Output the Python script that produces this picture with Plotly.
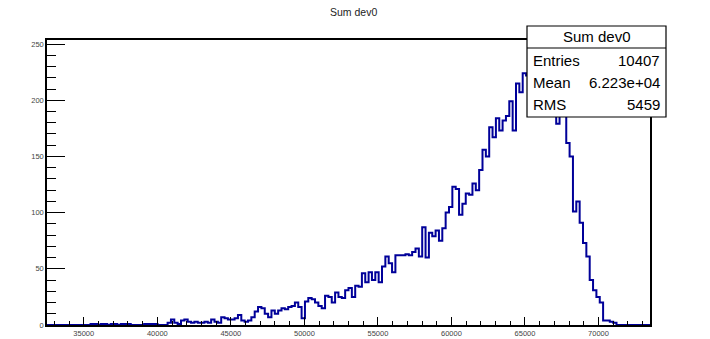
import plotly.graph_objects as go

# ---- data ----
x_min = 32500
x_max = 73500
n_bins = 180
counts = [
    0, 0, 0, 0, 0, 0, 0, 0, 0, 0, 0, 0, 0,            # 0-12
    1, 1, 0, 1, 1, 0, 1, 1, 0, 1, 1, 1, 0, 0, 0, 0,   # 13-28
    1, 1, 1, 1, 0, 0, 0, 2, 5, 2, 1, 4, 5, 3, 2, 3,   # 29-44
    2, 2, 3, 2, 5, 3, 2, 7, 6, 5, 5, 6, 9, 4, 3, 4,   # 45-60
    7, 12, 16, 15, 10, 7, 13, 10, 13, 15, 14, 16, 17, 20, 16, 6,  # 61-76
    21, 24, 23, 20, 17, 15, 26, 25, 20, 29, 25, 24, 31, 33, 25, 35,  # 77-92
    34, 46, 38, 47, 40, 47, 38, 52, 61, 55, 47, 62, 62, 62, 63, 62,  # 93-108
    65, 68, 61, 87, 60, 82, 79, 84, 75, 86, 100, 105, 123, 121, 98, 108,  # 109-124
    117, 116, 126, 120, 138, 156, 150, 176, 167, 184, 173, 182, 186, 199, 173, 215,  # 125-140
    207, 224, 222, 230, 218, 241, 228, 233, 215, 210, 198, 179, 192, 186, 162, 150,  # 141-156
    101, 110, 91, 73, 61, 40, 31, 25, 20, 4, 4, 3, 2,  # 157-169
    0, 0, 0, 0, 0, 0, 0, 0, 0, 0,                      # 170-179
]
x_ticks = [35000, 40000, 45000, 50000, 55000, 60000, 65000, 70000]
x_tick_labels = ["35000", "40000", "45000", "50000", "55000", "60000", "65000", "70000"]
y_ticks = [0, 50, 100, 150, 200, 250]
y_tick_labels = ["0", "50", "100", "150", "200", "250"]
y_max = 253.6
title = "Sum dev0"
stats_rows = [("Entries", "10407"), ("Mean", "6.223e+04"), ("RMS", "5459")]

# ---- layout geometry (pixels) ----
W, H = 710, 339
L, R, T, B = 47, 650, 40, 325


def px_x(px):
    return (px - L) / (R - L)


def px_y(py):
    return (B - py) / (B - T)


bw = (x_max - x_min) / n_bins
edges = [x_min + i * bw for i in range(n_bins + 1)]
ys = counts + [counts[-1]]

fig = go.Figure()
fig.add_trace(go.Scatter(
    x=edges, y=ys, mode="lines", line_shape="hv",
    line=dict(color="#000099", width=2), hoverinfo="skip", showlegend=False,
))

font_family = "Liberation Sans, Arial, sans-serif"

fig.update_layout(
    width=W, height=H,
    margin=dict(l=L, r=W - R, t=T, b=H - B, autoexpand=False),
    paper_bgcolor="white", plot_bgcolor="white",
    showlegend=False,
    xaxis=dict(
        range=[x_min, x_max], showgrid=False, zeroline=False, automargin=False,
        showline=True, linecolor="black", linewidth=1.5, mirror=True,
        ticks="inside", ticklen=8, tickwidth=1.2, tickcolor="black",
        tickvals=x_ticks, ticktext=x_tick_labels,
        tickfont=dict(family=font_family, size=7.5, color="#444"),
        minor=dict(ticks="inside", ticklen=4, tickwidth=1, tickcolor="black", dtick=1000, showgrid=False),
    ),
    yaxis=dict(
        range=[0, y_max], showgrid=False, zeroline=False, automargin=False,
        showline=True, linecolor="black", linewidth=1.5, mirror=True,
        ticks="inside", ticklen=18, tickwidth=1.2, tickcolor="black",
        tickvals=y_ticks, ticktext=y_tick_labels,
        tickfont=dict(family=font_family, size=7.5, color="#444"),
        minor=dict(ticks="inside", ticklen=9, tickwidth=1, tickcolor="black", dtick=10, showgrid=False),
    ),
)

# title
fig.add_annotation(
    x=px_x(353), y=px_y(12), xref="paper", yref="paper",
    text=title, showarrow=False, xanchor="center", yanchor="middle",
    font=dict(family=font_family, size=10.5, color="#222"),
)

# stats box
bx0, bx1, by0, by1, bsep = 527, 666, 26, 117, 48
fig.add_shape(type="rect", xref="paper", yref="paper",
              x0=px_x(bx0), x1=px_x(bx1), y0=px_y(by1), y1=px_y(by0),
              line=dict(color="black", width=1.2), fillcolor="white", layer="above")
fig.add_shape(type="line", xref="paper", yref="paper",
              x0=px_x(bx0), x1=px_x(bx1), y0=px_y(bsep), y1=px_y(bsep),
              line=dict(color="black", width=1.2), layer="above")
fig.add_annotation(
    x=px_x((bx0 + bx1) / 2), y=px_y(37), xref="paper", yref="paper",
    text=title, showarrow=False, xanchor="center", yanchor="middle",
    font=dict(family=font_family, size=15, color="black"),
)
row_y = [60, 82, 104]
for (lab, val), yy in zip(stats_rows, row_y):
    fig.add_annotation(x=px_x(531), y=px_y(yy), xref="paper", yref="paper",
                       text=lab, showarrow=False, xanchor="left", yanchor="middle",
                       font=dict(family=font_family, size=15, color="black"))
    fig.add_annotation(x=px_x(662), y=px_y(yy), xref="paper", yref="paper",
                       text=val, showarrow=False, xanchor="right", yanchor="middle",
                       font=dict(family=font_family, size=15, color="black"))

fig.write_html("out.html")
